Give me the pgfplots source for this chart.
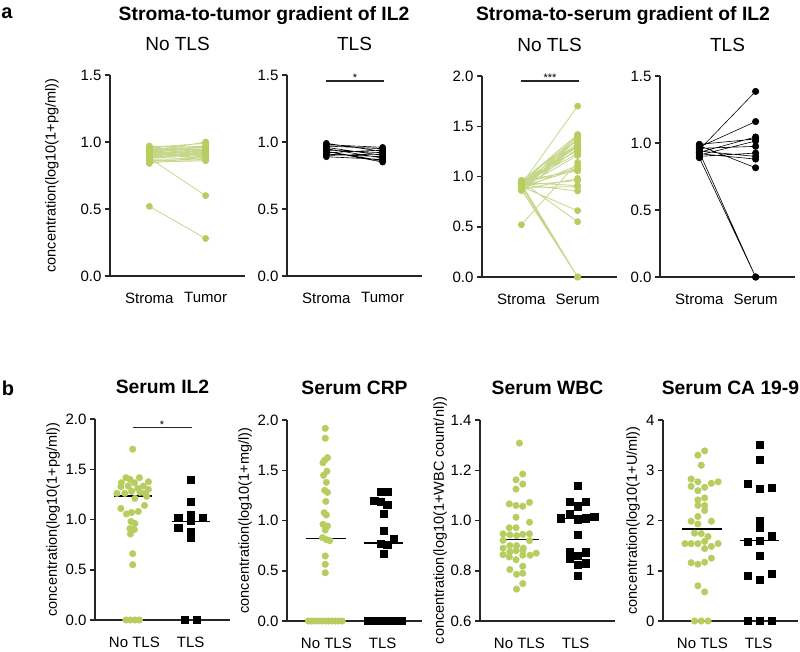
\documentclass[border=0pt]{standalone}
\usepackage{fontspec}
\setmainfont{Liberation Sans}
\usepackage{pgfplots}
\pgfplotsset{compat=1.18}
\definecolor{tlsgreen}{HTML}{B8CD60}
\definecolor{tlsline}{HTML}{C6D68A}
\definecolor{axisgray}{HTML}{262626}

\pgfplotsset{
  prism/.style={
    scale only axis, width=135pt, height=201pt,
    xmin=0.3, xmax=2.7, clip=false,
    axis lines=left, axis line style={-, line width=1.5pt, draw=axisgray},
    tick align=outside, major tick length=5pt,
    xtick={1,2}, x tick style={draw=none},
    y tick style={line width=1.5pt, draw=axisgray},
    tick label style={font=\fontsize{15}{17}\selectfont, text=black},
    xticklabel style={yshift=-8pt},
    /pgf/number format/assume math mode=true,
    yticklabel style={/pgf/number format/fixed, /pgf/number format/fixed zerofill, /pgf/number format/precision=1},
    ylab/.style={every axis y label/.style={at={(axis description cs:##1,0.5)}, rotate=90, anchor=center, font=\fontsize{14.5}{17}\selectfont}},
    title style={at={(axis description cs:0.5,1)}, anchor=center},
    unbounded coords=jump,
  },
  toprow/.style={prism, title style={font=\fontsize{19}{22}\selectfont, yshift=25pt}},
  botrow/.style={prism, title style={font=\fontsize{19.3}{22}\selectfont\bfseries, yshift=26pt}, xticklabels={No TLS,TLS}},
}

\begin{document}
\begin{tikzpicture}
\useasboundingbox (0pt,0pt) rectangle (800pt,-651pt);

\node[font=\fontsize{20}{22}\selectfont\bfseries] at (7pt,-13pt) {a};
\node[font=\fontsize{20}{22}\selectfont\bfseries] at (8pt,-388pt) {b};
\node[font=\fontsize{19.3}{22}\selectfont\bfseries] at (264pt,-16pt) {Stroma-to-tumor gradient of IL2};
\node[font=\fontsize{19.3}{22}\selectfont\bfseries] at (623pt,-16pt) {Stroma-to-serum gradient of IL2};

% a1: stroma-to-tumor, No TLS
\begin{axis}[toprow, at={(110pt,-276pt)}, anchor=south west,
  ymin=0, ymax=1.5, ytick={0,0.5,1,1.5}, xticklabels={Stroma,Tumor},
  title={No TLS}, ylabel={concentration(log10(1+pg/ml))}, ylab=-0.43]
\addplot[draw=tlsline, line width=0.8pt, mark=*, mark size=3pt,
  mark options={fill=tlsgreen, draw=tlsgreen}] coordinates {
(1,0.90)(2,0.92)(1.5,nan) (1,0.92)(2,0.93)(1.5,nan) (1,0.88)(2,0.90)(1.5,nan)
(1,0.95)(2,0.97)(1.5,nan) (1,0.91)(2,0.89)(1.5,nan) (1,0.93)(2,0.95)(1.5,nan)
(1,0.87)(2,0.88)(1.5,nan) (1,0.96)(2,0.99)(1.5,nan) (1,0.89)(2,0.91)(1.5,nan)
(1,0.94)(2,0.92)(1.5,nan) (1,0.90)(2,0.94)(1.5,nan) (1,0.92)(2,0.90)(1.5,nan)
(1,0.86)(2,0.87)(1.5,nan) (1,0.97)(2,0.96)(1.5,nan) (1,0.91)(2,0.93)(1.5,nan)
(1,0.93)(2,0.91)(1.5,nan) (1,0.89)(2,0.95)(1.5,nan) (1,0.95)(2,0.93)(1.5,nan)
(1,0.88)(2,0.92)(1.5,nan) (1,0.92)(2,0.97)(1.5,nan) (1,0.90)(2,0.88)(1.5,nan)
(1,0.94)(2,0.96)(1.5,nan) (1,0.85)(2,0.86)(1.5,nan) (1,0.91)(2,0.91)(1.5,nan)
(1,0.93)(2,1.00)(1.5,nan) (1,0.96)(2,0.94)(1.5,nan) (1,0.84)(2,0.89)(1.5,nan)
(1,0.88)(2,0.60)(1.5,nan) (1,0.52)(2,0.28)
};
\end{axis}

% a2: stroma-to-tumor, TLS
\begin{axis}[toprow, at={(287pt,-276pt)}, anchor=south west,
  ymin=0, ymax=1.5, ytick={0,0.5,1,1.5}, xticklabels={Stroma,Tumor},
  title={TLS}]
\addplot[black, line width=0.6pt, mark=*, mark size=3pt] coordinates {
(1,0.99)(2,0.93)(1.5,nan) (1,0.97)(2,0.95)(1.5,nan) (1,0.96)(2,0.90)(1.5,nan)
(1,0.95)(2,0.88)(1.5,nan) (1,0.94)(2,0.92)(1.5,nan) (1,0.93)(2,0.86)(1.5,nan)
(1,0.92)(2,0.94)(1.5,nan) (1,0.91)(2,0.89)(1.5,nan) (1,0.90)(2,0.91)(1.5,nan)
(1,0.89)(2,0.87)(1.5,nan) (1,0.98)(2,0.96)(1.5,nan) (1,0.93)(2,0.85)
};
\addplot[axisgray, line width=1.2pt] coordinates {(1.0,1.455)(2.02,1.455)};
\node[font=\fontsize{11}{12}\selectfont, yshift=3pt] at (axis cs:1.51,1.455) {*};
\end{axis}

% a3: stroma-to-serum, No TLS
\begin{axis}[toprow, at={(482pt,-277pt)}, anchor=south west,
  ymin=0, ymax=2, ytick={0,0.5,1,1.5,2}, xticklabels={Stroma,Serum},
  title={No TLS}]
\addplot[draw=tlsline, line width=0.8pt, mark=*, mark size=3pt,
  mark options={fill=tlsgreen, draw=tlsgreen}] coordinates {
(1,0.92)(2,1.70)(1.5,nan) (1,0.95)(2,1.416)(1.5,nan) (1,0.90)(2,1.40)(1.5,nan)
(1,0.93)(2,1.416)(1.5,nan) (1,0.88)(2,1.366)(1.5,nan) (1,0.96)(2,1.366)(1.5,nan)
(1,0.91)(2,1.376)(1.5,nan) (1,0.89)(2,1.333)(1.5,nan) (1,0.94)(2,1.327)(1.5,nan)
(1,0.87)(2,1.333)(1.5,nan) (1,0.92)(2,1.31)(1.5,nan) (1,0.90)(2,1.30)(1.5,nan)
(1,0.95)(2,1.26)(1.5,nan) (1,0.93)(2,1.26)(1.5,nan) (1,0.86)(2,1.28)(1.5,nan)
(1,0.91)(2,1.27)(1.5,nan) (1,0.94)(2,1.26)(1.5,nan) (1,0.89)(2,1.21)(1.5,nan)
(1,0.92)(2,1.23)(1.5,nan) (1,0.88)(2,1.11)(1.5,nan) (1,0.52)(2,1.14)(1.5,nan)
(1,0.96)(2,1.055)(1.5,nan) (1,0.90)(2,1.07)(1.5,nan) (1,0.93)(2,1.08)(1.5,nan)
(1,0.87)(2,0.98)(1.5,nan) (1,0.91)(2,0.96)(1.5,nan) (1,0.94)(2,0.91)(1.5,nan)
(1,0.89)(2,0.90)(1.5,nan) (1,0.92)(2,0.856)(1.5,nan) (1,0.90)(2,0.66)(1.5,nan)
(1,0.95)(2,0.55)(1.5,nan) (1,0.88)(2,0)(1.5,nan) (1,0.91)(2,0)(1.5,nan)
(1,0.87)(2,0)(1.5,nan) (1,0.93)(2,0)
};
\addplot[axisgray, line width=1.2pt] coordinates {(1.0,1.95)(2.02,1.95)};
\node[font=\fontsize{11}{12}\selectfont, yshift=3pt] at (axis cs:1.51,1.95) {***};
\end{axis}

% a4: stroma-to-serum, TLS
\begin{axis}[toprow, at={(660pt,-277pt)}, anchor=south west,
  ymin=0, ymax=1.5, ytick={0,0.5,1,1.5}, xticklabels={Stroma,Serum},
  title={TLS}]
\addplot[black, line width=0.6pt, mark=*, mark size=3.2pt] coordinates {
(1,0.95)(2,1.385)(1.5,nan) (1,0.97)(2,1.16)(1.5,nan) (1,0.93)(2,1.045)(1.5,nan)
(1,0.99)(2,1.03)(1.5,nan) (1,0.91)(2,1.015)(1.5,nan) (1,0.96)(2,0.975)(1.5,nan)
(1,0.90)(2,0.925)(1.5,nan) (1,0.94)(2,0.90)(1.5,nan) (1,0.92)(2,0.88)(1.5,nan)
(1,0.98)(2,0.815)(1.5,nan) (1,0.89)(2,0)(1.5,nan) (1,0.93)(2,0)
};
\end{axis}

% b1: serum IL2
\begin{axis}[botrow, at={(95pt,-620pt)}, anchor=south west,
  ymin=0, ymax=2, ytick={0,0.5,1,1.5,2},
  title={Serum IL2}, ylabel={concentration(log10(1+pg/ml))}, ylab=-0.31]
\addplot[only marks, mark=*, mark size=3.3pt, tlsgreen] coordinates {
(0.97,1.70) (0.85,1.416) (0.92,1.40) (1.09,1.416) (0.77,1.366) (1.00,1.366)
(1.25,1.376) (0.89,1.333) (0.76,1.327) (1.16,1.333) (1.06,1.31) (1.25,1.30)
(0.69,1.26) (0.83,1.26) (0.95,1.28) (1.10,1.27) (1.19,1.26) (1.01,1.21)
(1.22,1.23) (0.76,1.11) (1.18,1.14) (0.86,1.055) (0.95,1.07) (1.07,1.08)
(0.94,0.98) (1.01,0.96) (0.92,0.91) (1.00,0.90) (0.93,0.856) (0.97,0.66)
(0.97,0.55) (0.85,0) (0.93,0) (1.01,0) (1.09,0)
};
\addplot[only marks, mark=square*, mark size=3.6pt, black] coordinates {
(2.00,1.393) (2.00,1.177) (2.00,1.045) (1.78,1.02) (2.21,1.02) (2.00,0.985)
(1.78,0.92) (2.00,0.88) (2.00,0.82) (1.89,0) (2.11,0)
};
\addplot[black, line width=1.5pt] coordinates {(0.63,1.234)(1.32,1.234)};
\addplot[black, line width=1.5pt] coordinates {(1.66,0.98)(2.34,0.98)};
\addplot[axisgray, line width=1.2pt] coordinates {(0.97,1.917)(2.02,1.917)};
\node[font=\fontsize{11}{12}\selectfont, yshift=3pt] at (axis cs:1.49,1.917) {*};
\end{axis}

% b2: serum CRP
\begin{axis}[botrow, at={(287pt,-621pt)}, anchor=south west,
  ymin=0, ymax=2, ytick={0,0.5,1,1.5,2},
  title={Serum CRP}, ylabel={concentration(log10(1+mg/l))}, ylab=-0.31]
\addplot[only marks, mark=*, mark size=3.3pt, tlsgreen] coordinates {
(0.98,1.917) (0.98,1.818) (1.02,1.625) (0.97,1.60) (0.94,1.575) (1.01,1.49)
(0.95,1.45) (1.00,1.38) (0.97,1.30) (1.02,1.28) (0.99,1.19) (0.96,1.078)
(1.00,1.055) (0.94,0.962) (1.02,0.945) (0.98,0.905) (0.93,0.83) (1.00,0.81)
(1.06,0.80) (0.98,0.647) (0.98,0.564) (0.98,0.48)
(0.68,0) (0.74,0) (0.80,0) (0.86,0) (0.92,0) (0.98,0) (1.04,0) (1.10,0)
(1.16,0) (1.22,0) (1.28,0)
};
\addplot[only marks, mark=square*, mark size=3.6pt, black] coordinates {
(1.96,1.284) (2.08,1.284) (1.85,1.20) (1.96,1.19) (2.08,1.16) (2.02,1.07)
(2.02,0.90) (2.20,0.82) (1.96,0.773) (2.08,0.757) (2.02,0.673)
(1.74,0) (1.86,0) (1.98,0) (2.10,0) (2.22,0) (2.34,0)
};
\addplot[black, line width=1.5pt] coordinates {(0.64,0.82)(1.34,0.82)};
\addplot[black, line width=1.5pt] coordinates {(1.67,0.775)(2.37,0.775)};
\end{axis}

% b3: serum WBC
\begin{axis}[botrow, at={(480pt,-621pt)}, anchor=south west,
  ymin=0.6, ymax=1.4, ytick={0.6,0.8,1.0,1.2,1.4},
  title={Serum WBC}, ylabel={concentration(log10(1+WBC count/nl))}, ylab=-0.296]
\addplot[only marks, mark=*, mark size=3.3pt, tlsgreen] coordinates {
(1.00,1.308) (1.06,1.185) (0.94,1.162) (1.06,1.145) (0.94,1.125)
(0.82,1.066) (0.94,1.06) (1.06,1.057) (1.18,1.072) (0.94,1.013) (1.18,0.993)
(0.82,0.971) (0.94,0.971) (0.71,0.947) (0.83,0.943) (0.95,0.94) (1.06,0.945)
(1.18,0.947) (0.71,0.921) (1.18,0.92) (0.71,0.89) (0.83,0.90) (0.95,0.90)
(1.07,0.89) (0.71,0.864) (0.83,0.875) (0.94,0.88) (1.06,0.88) (1.19,0.862)
(1.30,0.87) (0.82,0.855) (0.94,0.844) (1.06,0.862) (0.83,0.805) (1.06,0.818)
(0.95,0.786) (1.06,0.79) (1.06,0.749) (0.95,0.727)
};
\addplot[only marks, mark=square*, mark size=3.6pt, black] coordinates {
(2.04,1.139) (1.89,1.076) (2.04,1.057) (2.18,1.076) (1.89,1.027) (1.74,1.009)
(2.04,1.005) (2.18,1.009) (2.33,1.015) (2.04,0.943) (1.89,0.874) (2.04,0.86)
(2.18,0.874) (1.89,0.848) (2.04,0.8245) (2.18,0.83) (2.04,0.779)
};
\addplot[black, line width=1.5pt] coordinates {(0.66,0.924)(1.35,0.924)};
\addplot[black, line width=1.5pt] coordinates {(1.69,1.009)(2.34,1.009)};
\end{axis}

% b4: serum CA 19-9
\begin{axis}[botrow, at={(663pt,-621pt)}, anchor=south west,
  ymin=0, ymax=4, ytick={0,1,2,3,4},
  yticklabel style={/pgf/number format/precision=0, /pgf/number format/fixed zerofill=false},
  title={Serum CA 19-9}, ylabel={concentration(log10(1+U/ml))}, ylab=-0.222]
\addplot[only marks, mark=*, mark size=3.3pt, tlsgreen] coordinates {
(1.04,3.386) (0.92,3.30) (0.98,3.10) (0.80,2.826) (0.92,2.77) (1.04,2.66)
(1.16,2.74) (1.28,2.77) (0.80,2.68) (0.92,2.594) (0.92,2.41) (1.04,2.45)
(0.92,2.30) (1.04,2.30) (1.04,2.20) (0.92,2.08) (0.80,1.986) (0.92,1.93)
(1.16,1.986) (0.86,1.75) (0.98,1.74) (1.10,1.68) (0.69,1.54) (0.80,1.54)
(0.92,1.54) (1.04,1.584) (1.16,1.485) (1.28,1.54) (1.04,1.44) (0.80,1.16)
(0.92,1.13) (1.04,1.17) (1.16,1.25) (0.92,0.70) (1.04,0.58)
(0.86,0) (0.98,0) (1.10,0)
};
\addplot[only marks, mark=square*, mark size=3.6pt, black] coordinates {
(2.02,3.505) (2.02,3.214) (1.80,2.74) (2.02,2.64) (2.23,2.66) (2.02,2.0)
(2.02,1.85) (2.23,1.69) (1.80,1.584) (2.02,1.60) (2.02,1.307) (1.80,0.897)
(2.02,0.825) (2.23,0.944) (1.80,0) (2.02,0) (2.23,0)
};
\addplot[black, line width=1.5pt] coordinates {(0.64,1.835)(1.34,1.835)};
\addplot[black, line width=1.5pt] coordinates {(1.67,1.60)(2.36,1.60)};
\end{axis}
\end{tikzpicture}
\end{document}
